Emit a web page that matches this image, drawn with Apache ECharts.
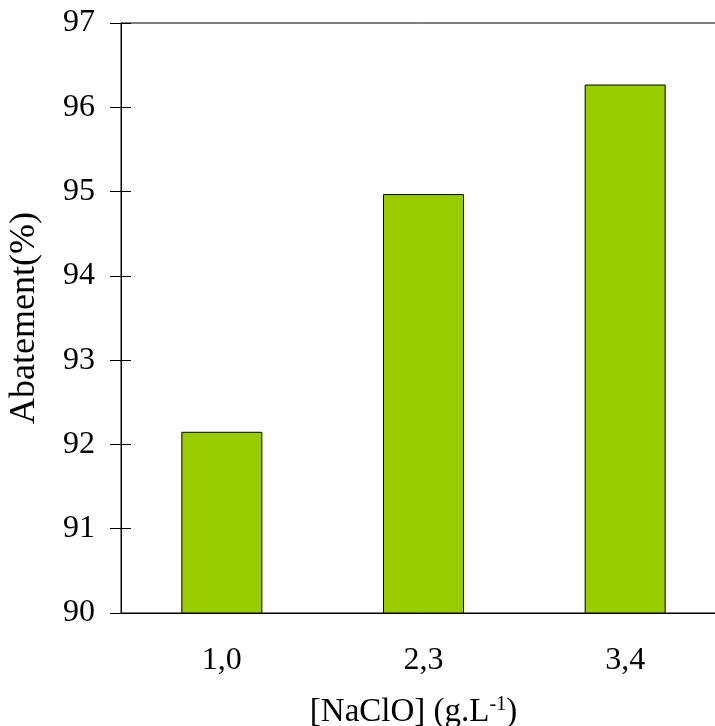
<!DOCTYPE html>
<html><head><meta charset="utf-8">
<script src="https://cdn.jsdelivr.net/npm/echarts@6/dist/echarts.min.js"></script>
<style>html,body{margin:0;padding:0;background:#fff}#c{width:715px;height:726px}</style>
</head><body><div id="c"></div>
<script>
const categories = ['1,0', '2,3', '3,4'];
const abatement = [92.15, 94.97, 96.27];
const yTicks = {min: 90, max: 97, interval: 1};

const chart = echarts.init(document.getElementById('c'), null, {renderer: 'canvas'});
const font = 'Liberation Serif, Times New Roman, serif';
chart.setOption({
  animation: false,
  backgroundColor: '#fff',
  grid: {left: 121, top: 23, width: 605, height: 590, show: true, borderColor: '#000', borderWidth: 1,
         backgroundColor: 'transparent', containLabel: false, outerBoundsMode: 'none'},
  xAxis: {
    type: 'category', data: categories,
    axisLine: {lineStyle: {color: '#000', width: 1}},
    axisTick: {show: false},
    axisLabel: {color: '#000', fontFamily: font, fontSize: 32, margin: 32},
    name: '{a|[NaClO] (g.L}{s|-1}{a|)}',
    nameLocation: 'middle', nameGap: 82,
    nameTextStyle: {padding: [0, 20, 0, 0], rich: {
      a: {fontFamily: font, fontSize: 33, color: '#000'},
      s: {fontFamily: font, fontSize: 20, color: '#000', verticalAlign: 'top', padding: [0, 0, 14, 0]}
    }}
  },
  yAxis: [{
    type: 'value', min: yTicks.min, max: yTicks.max, interval: yTicks.interval,
    axisLine: {show: true, lineStyle: {color: '#000', width: 1}},
    axisTick: {show: false},
    axisLabel: {color: '#000', fontFamily: font, fontSize: 32, margin: 26},
    splitLine: {show: false},
    name: 'Abatement(%)', nameLocation: 'middle', nameGap: 78,
    nameTextStyle: {fontFamily: font, fontSize: 36, color: '#000'}
  }, {
    type: 'value', min: yTicks.min, max: yTicks.max, interval: yTicks.interval,
    position: 'left', offset: -10,
    axisLine: {show: false},
    axisTick: {show: true, length: 21, lineStyle: {color: '#000'}},
    axisLabel: {show: false}, splitLine: {show: false}
  }],
  series: [{
    type: 'bar', data: abatement, barWidth: 81,
    itemStyle: {color: '#99CC00', borderColor: '#000', borderWidth: 1}
  }]
});
</script></body></html>
